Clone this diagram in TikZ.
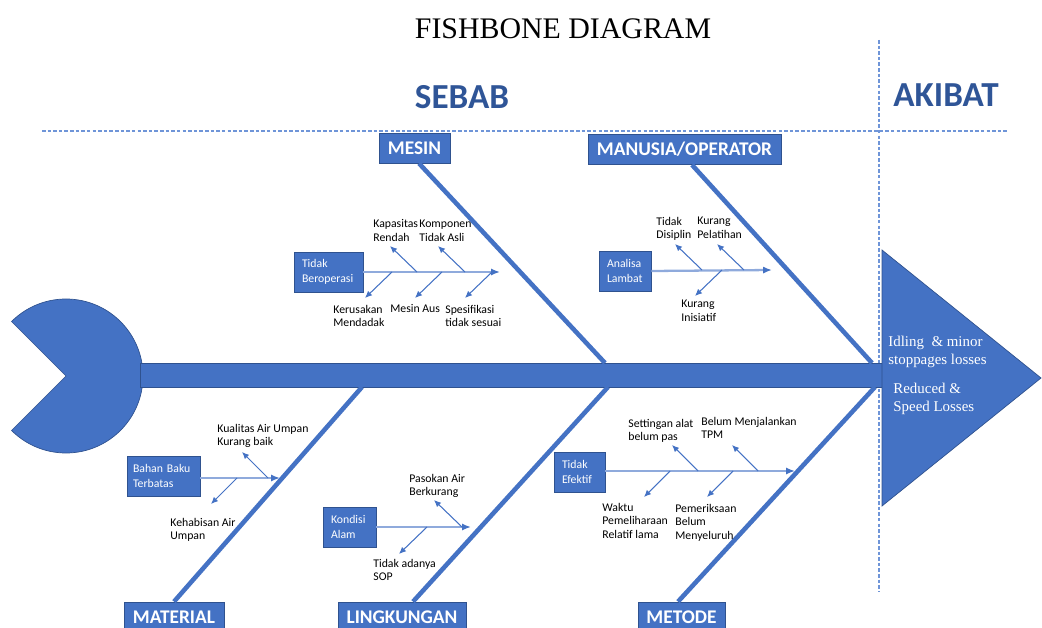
\documentclass[tikz,border=0pt]{standalone}
\usepackage{fontspec}
\setmainfont{Carlito}
\newfontfamily\timesfont{Liberation Serif}
\usetikzlibrary{arrows.meta}
\definecolor{fishblue}{HTML}{4472C4}
\definecolor{fishedge}{HTML}{2F528F}
\definecolor{headblue}{HTML}{2F5597}
\definecolor{dashblue}{HTML}{6F95D8}
\definecolor{spineblue}{HTML}{8FAADC}
\def\lblfont{\fontsize{6.7}{7.8}\selectfont}
\def\boxfont{\fontsize{6.7}{8.7}\selectfont}
\tikzset{
  catbox/.style={fill=fishblue, draw=fishedge, line width=0.4pt, text=white,
    font=\bfseries\fontsize{11}{13}\selectfont, minimum height=0.6cm, inner sep=0pt},
  subbox/.style={fill=fishblue, draw=fishedge, line width=0.4pt, text=white,
    font=\boxfont, align=left, minimum height=0.8cm, inner xsep=0.16cm, inner ysep=0pt},
  lbl/.style={font=\lblfont, align=left, inner sep=0pt, anchor=north west, yshift=-0.05cm},
  headlbl/.style={font=\bfseries\fontsize{20}{24}\selectfont, text=headblue},
  fxlbl/.style={font=\timesfont\fontsize{8.5}{10.2}\selectfont, text=white, align=left,
    inner sep=0pt, anchor=north west},
  bone/.style={fishblue, line width=2.6pt},
  subspine/.style={spineblue, line width=1.3pt, -{Latex[color=fishblue, length=5pt, width=4pt]}},
  twig/.style={fishblue, line width=0.6pt, -{Latex[length=4pt, width=3.5pt]}},
  guide/.style={dashblue, line width=0.7pt, dash pattern=on 2pt off 1.2pt}
}
\begin{document}
\begin{tikzpicture}[x=0.02cm, y=-0.02cm]
\useasboundingbox (0,0) rectangle (1042,628);
% titles and guides
\draw[guide] (42,131) -- (1008,131);
\draw[guide] (879,40) -- (879,592);
\node[font=\timesfont\fontsize{17}{20}\selectfont] (title) at (563,29) {FISHBONE DIAGRAM};
\node[headlbl] (sebab) at (462,97) {SEBAB};
\node[headlbl] (akibat) at (946,95) {AKIBAT};

% tail, spine, head
\filldraw[fill=fishblue, draw=fishedge, line width=0.4pt] (66,376) -- ++(135:77)
  arc[start angle=135, end angle=-135, radius=77] -- cycle;
\filldraw[fill=fishblue, draw=fishedge, line width=0.4pt] (140,363) rectangle (882,387);
\filldraw[fill=fishblue, draw=fishedge, line width=0.4pt] (882,250) -- (1041,378) -- (882,506) -- cycle;
\node[fxlbl] (idling) at (888,336) {Idling~ \& minor\\stoppages losses};
\node[fxlbl] (reduced) at (893,383) {Reduced \&\\Speed Losses};

% main bones
\coordinate (jmesin) at (605,363);
\coordinate (jmanusia) at (872,363);
\coordinate (jmaterial) at (362,387);
\coordinate (jlingkungan) at (608,387);
\coordinate (jmetode) at (875,387);
\node[catbox, minimum width=1.42cm] (mesin) at (414.5,148) {MESIN};
\node[catbox, minimum width=3.86cm] (manusia) at (684.5,149.5) {MANUSIA/OPERATOR};
\node[catbox, minimum width=2.0cm] (material) at (174,617) {MATERIAL};
\node[catbox, minimum width=2.56cm] (lingkungan) at (402,617) {LINGKUNGAN};
\node[catbox, minimum width=1.74cm] (metode) at (681.5,617) {METODE};
\draw[bone] ([xshift=0.09cm]mesin.south) -- (jmesin);
\draw[bone] ([xshift=0.15cm]manusia.south) -- (jmanusia);
\draw[bone] (material.north) -- (jmaterial);
\draw[bone] ([xshift=0.22cm]lingkungan.north) -- (jlingkungan);
\draw[bone] ([xshift=-0.07cm]metode.north) -- (jmetode);

% mesin
\node[subbox, text width=1.06cm] (beroperasi) at (328.5,272) {Tidak\\Beroperasi};
\coordinate (tipmesin) at (500,272);
\draw[subspine] (beroperasi.east) -- (tipmesin);
\foreach \a/\x/\d in {ma/417/-1, mb/465/-1, mc/392/1, md/442/1, me/492/1}{
  \path (\x,272) coordinate (\a) ++(-27,\d*26) coordinate (\a e);
  \draw[twig] (\a) -- (\a e);
}
\node[lbl] (kapasitas) at (373,217) {Kapasitas\\Rendah};
\node[lbl] (komponen) at (419,217) {Komponen\\Tidak Asli};
\node[lbl] (kerusakan) at (333,302) {Kerusakan\\Mendadak};
\node[lbl] (mesinaus) at (390,302) {Mesin Aus};
\node[lbl] (spesifikasi) at (445,302) {Spesifikasi\\tidak sesuai};

% manusia/operator
\node[subbox, text width=0.72cm] (analisa) at (625,271) {Analisa\\Lambat};
\coordinate (tipmanusia) at (772,270);
\draw[subspine] (analisa.east) -- (tipmanusia);
\foreach \a/\x/\d in {oa/702/-1, ob/744/-1, oc/722/1}{
  \path (\x,270) coordinate (\a) ++(-27,\d*26) coordinate (\a e);
  \draw[twig] (\a) -- (\a e);
}
\node[lbl] (disiplin) at (656,214) {Tidak\\Disiplin};
\node[lbl] (pelatihan) at (697,214) {Kurang\\Pelatihan};
\node[lbl] (inisiatif) at (681,297) {Kurang\\Inisiatif};

% material
\node[subbox, inner xsep=0.12cm, text width=1.22cm] (bahanbaku) at (163.5,476) {Bahan Baku\\Terbatas};
\coordinate (tipmaterial) at (280,478);
\draw[subspine] (bahanbaku.east |- tipmaterial) -- (tipmaterial);
\foreach \a/\x/\d in {ta/268/-1, tb/237/1}{
  \path (\x,478) coordinate (\a) ++(-26,\d*26) coordinate (\a e);
  \draw[twig] (\a) -- (\a e);
}
\node[lbl] (kualitas) at (217,421) {Kualitas Air Umpan\\Kurang baik};
\node[lbl] (kehabisan) at (170,515) {Kehabisan Air\\Umpan};

% lingkungan
\node[subbox, text width=0.74cm] (kondisi) at (349.5,527) {Kondisi\\Alam};
\coordinate (tiplingkungan) at (471,527);
\draw[subspine] (kondisi.east) -- (tiplingkungan);
\foreach \a/\x/\d in {la/462/-1, lb/427/1}{
  \path (\x,527) coordinate (\a) ++(-28,\d*27) coordinate (\a e);
  \draw[twig] (\a) -- (\a e);
}
\node[lbl] (pasokan) at (409,471) {Pasokan Air\\Berkurang};
\node[lbl] (sop) at (373,556) {Tidak adanya\\SOP};

% metode
\node[subbox, text width=0.70cm] (efektif) at (579.5,472) {Tidak\\Efektif};
\coordinate (tipmetode) at (795,471);
\draw[subspine] (efektif.east |- tipmetode) -- (tipmetode);
\foreach \a/\x/\d in {ea/698/-1, eb/758/-1, ec/670/1, ed/733/1}{
  \path (\x,471) coordinate (\a) ++(-26,\d*26) coordinate (\a e);
  \draw[twig] (\a) -- (\a e);
}
\node[lbl] (settingan) at (628,416) {Settingan alat\\belum pas};
\node[lbl] (tpm) at (701,414) {Belum Menjalankan\\TPM};
\node[lbl] (waktu) at (602,500) {Waktu\\Pemeliharaan\\Relatif lama};
\node[lbl] (pemeriksaan) at (675,501) {Pemeriksaan\\Belum\\Menyeluruh};
\end{tikzpicture}
\end{document}
